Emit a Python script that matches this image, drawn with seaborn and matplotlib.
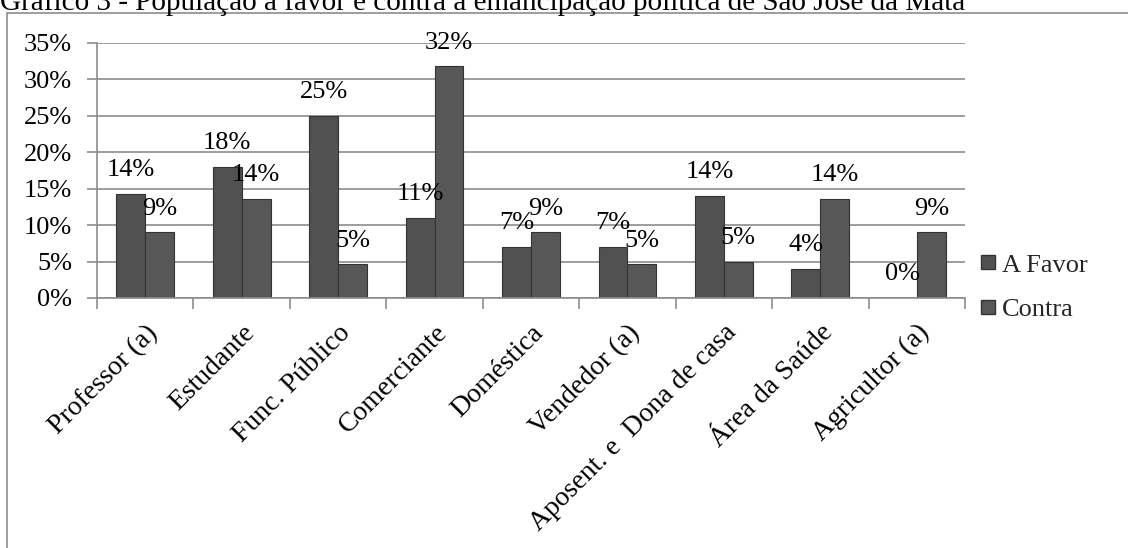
import matplotlib
matplotlib.use("Agg")
import matplotlib.pyplot as plt
import matplotlib.patches as mpatches
from matplotlib.lines import Line2D
from matplotlib.ticker import FixedLocator, PercentFormatter
import numpy as np
import pandas as pd
import seaborn as sns

# Data (percent)
categories = ['Professor (a)', 'Estudante', 'Func. Público', 'Comerciante', 'Doméstica',
              'Vendedor (a)', 'Aposent. e  Dona de casa', 'Área da Saúde', 'Agricultor (a)']
a_favor = [14.3, 18.0, 25.0, 11.0, 7.0, 7.0, 14.0, 4.0, 0.0]
contra = [9.0, 13.6, 4.6, 31.8, 9.0, 4.6, 5.0, 13.6, 9.0]
series = ['A Favor', 'Contra']

df = pd.DataFrame({
    'Categoria': categories * 2,
    'Valor': a_favor + contra,
    'Grupo': ['A Favor'] * len(categories) + ['Contra'] * len(categories),
})

sns.set_theme(style='white')
plt.rcParams['font.family'] = ['Liberation Serif', 'DejaVu Serif']
FS = 19

fig = plt.figure(figsize=(11.28, 5.48), dpi=100)
ax = fig.add_axes([97 / 1128, 1 - 298 / 548, (965 - 97) / 1128, 255 / 548])

bar_colors = {'A Favor': '#515151', 'Contra': '#575757'}
sns.barplot(data=df, x='Categoria', y='Valor', hue='Grupo', palette=bar_colors,
            width=0.6, edgecolor='#333333', linewidth=0.8, ax=ax, legend=False)

# Value labels
for cont in ax.containers:
    ax.bar_label(cont, labels=[f'{v:.0f}%' for v in cont.datavalues],
                 padding=9, fontsize=FS, color='black')

# Axes styling
ax.set_ylim(0, 35)
ax.set_xlim(-0.5, len(categories) - 0.5)
ax.yaxis.set_major_locator(FixedLocator(np.arange(0, 36, 5)))
ax.yaxis.set_major_formatter(PercentFormatter(decimals=0))
ax.grid(axis='y', color='#8c8c8c', linewidth=1.2)
ax.set_axisbelow(True)
for side in ['top', 'right']:
    ax.spines[side].set_visible(False)
for side in ['left', 'bottom']:
    ax.spines[side].set_color('#8c8c8c')
    ax.spines[side].set_linewidth(1.2)

ax.tick_params(axis='y', which='major', left=True, length=7, width=1.2, color='#8c8c8c',
               labelsize=FS, pad=11, labelcolor='black')
ax.xaxis.set_minor_locator(FixedLocator(np.arange(-0.5, len(categories), 1)))
ax.tick_params(axis='x', which='minor', bottom=True, length=8, width=1.2, color='#8c8c8c')
ax.tick_params(axis='x', which='major', bottom=False, labelsize=20, pad=10, labelcolor='black')
plt.setp(ax.get_xticklabels(), rotation=45, ha='right', rotation_mode='anchor')
ax.set_xlabel('')
ax.set_ylabel('')

# Legend
handles = [Line2D([], [], marker='s', linestyle='', markersize=10,
                  markerfacecolor=bar_colors[s], markeredgecolor='#333333', label=s)
           for s in series]
fig.legend(handles=handles, loc='upper left', bbox_to_anchor=(962 / 1128, 1 - 240 / 548),
           frameon=False, fontsize=FS, handletextpad=0.0, labelspacing=0.8,
           borderpad=0, handlelength=1.0)

# Chart border (partly outside the image) and cut-off title
fig.patches.append(mpatches.Rectangle((7 / 1128, -0.2), 1.2, 1 - 13 / 548 + 0.2,
                                      transform=fig.transFigure, fill=False,
                                      edgecolor='#8c8c8c', linewidth=1.2))
fig.text(0.0, 1 - 10 / 548,
         'Gráfico 3 - População a favor e contra a emancipação política de São José da Mata',
         fontsize=21, va='baseline', ha='left', color='black')

plt.savefig('out.png', dpi=100)
plt.close(fig)
